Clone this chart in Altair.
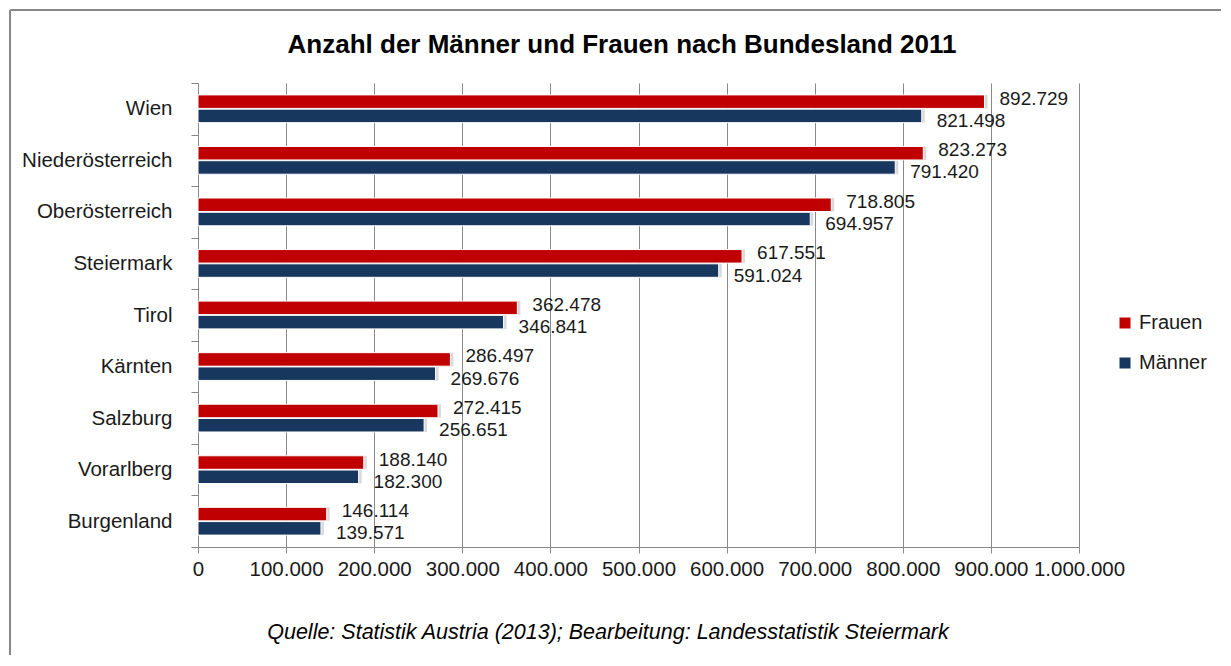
import altair as alt
import pandas as pd

bundeslaender = ["Wien", "Niederösterreich", "Oberösterreich", "Steiermark", "Tirol",
                 "Kärnten", "Salzburg", "Vorarlberg", "Burgenland"]
frauen = [892729, 823273, 718805, 617551, 362478, 286497, 272415, 188140, 146114]
maenner = [821498, 791420, 694957, 591024, 346841, 269676, 256651, 182300, 139571]
serien = ["Frauen", "Männer"]
farben = ["#C00000", "#17375E"]
x_ticks = [0, 100000, 200000, 300000, 400000, 500000, 600000, 700000, 800000, 900000, 1000000]
titel = "Anzahl der Männer und Frauen nach Bundesland 2011"
quelle = "Quelle: Statistik Austria (2013); Bearbeitung: Landesstatistik Steiermark"

rows = []
for b, f, m in zip(bundeslaender, frauen, maenner):
    rows.append({"Bundesland": b, "Geschlecht": serien[0], "Anzahl": f})
    rows.append({"Bundesland": b, "Geschlecht": serien[1], "Anzahl": m})
df = pd.DataFrame(rows)
df["Label"] = df["Anzahl"].map(lambda v: f"{v:,}".replace(",", "."))

FONT = "Liberation Sans"
GRAY = "#888888"
TXT = "#1a1a1a"

y_enc = alt.Y("Bundesland:N", sort=bundeslaender,
              scale=alt.Scale(paddingInner=0, paddingOuter=0),
              axis=alt.Axis(title=None, tickBand="extent", tickSize=7, tickColor=GRAY,
                            domainColor=GRAY, labelPadding=19, labelFontSize=20.5,
                            labelFont=FONT, labelColor=TXT, grid=False))
yoff = alt.YOffset("Geschlecht:N", sort=serien,
                   scale=alt.Scale(paddingInner=0.0526, paddingOuter=0.835))
x_enc = alt.X("Anzahl:Q", scale=alt.Scale(domain=[0, 1000000], nice=False),
              axis=alt.Axis(title=None, values=x_ticks, grid=True, gridColor=GRAY,
                            domainColor=GRAY, tickColor=GRAY, tickSize=6,
                            labelPadding=6, labelFontSize=20.5, labelFont=FONT,
                            labelColor=TXT, labelFlush=False, labelOverlap=False,
                            labelExpr="replace(format(datum.value, ','), regexp(',', 'g'), '.')"))
color = alt.Color("Geschlecht:N", sort=serien,
                  scale=alt.Scale(domain=serien, range=farben),
                  legend=alt.Legend(orient="none", legendX=917, legendY=230, title=None,
                                    symbolType="square", symbolSize=121, symbolStrokeWidth=0,
                                    labelFontSize=20, labelFont=FONT, labelColor=TXT,
                                    labelOffset=4, rowPadding=20, padding=0))

base = alt.Chart(df)

shadow = base.mark_bar(color="#000000", opacity=0.15, xOffset=3, yOffset=3).encode(
    y=y_enc, yOffset=yoff, x=x_enc)

bars = base.mark_bar(stroke="white", strokeWidth=1).encode(
    y=y_enc, yOffset=yoff, x=x_enc, color=color)

txt_f = base.transform_filter(alt.datum.Geschlecht == serien[0]).mark_text(
    align="left", baseline="middle", dx=15, dy=-3, fontSize=19, font=FONT, color=TXT
).encode(y=y_enc, yOffset=yoff, x=x_enc, text="Label:N")

txt_m = base.transform_filter(alt.datum.Geschlecht == serien[1]).mark_text(
    align="left", baseline="middle", dx=15, dy=5, fontSize=19, font=FONT, color=TXT
).encode(y=y_enc, yOffset=yoff, x=x_enc, text="Label:N")

one = alt.Chart(pd.DataFrame({"d": [0]}))
top_line = one.mark_rule(color=GRAY, strokeWidth=2).encode(
    x=alt.value(-188), x2=alt.value(1023), y=alt.value(-73))
left_line = one.mark_rule(color=GRAY, strokeWidth=2).encode(
    x=alt.value(-188), y=alt.value(-73), y2=alt.value(572))

title_mark = one.mark_text(fontSize=26, fontWeight="bold", font=FONT, color="#000000",
                           align="center", baseline="middle").encode(
    x=alt.value(424), y=alt.value(-38), text=alt.value(titel))
source_mark = one.mark_text(fontSize=21.5, fontStyle="italic", font=FONT, color="#000000",
                            align="center", baseline="middle").encode(
    x=alt.value(410), y=alt.value(550), text=alt.value(quelle))

chart = alt.layer(shadow, bars, txt_f, txt_m, top_line, left_line, title_mark, source_mark).properties(
    width=881, height=464, padding=1, background="white"
).configure_view(strokeWidth=0)

chart.save("out.html", embed_options={"renderer": "svg", "actions": False})
